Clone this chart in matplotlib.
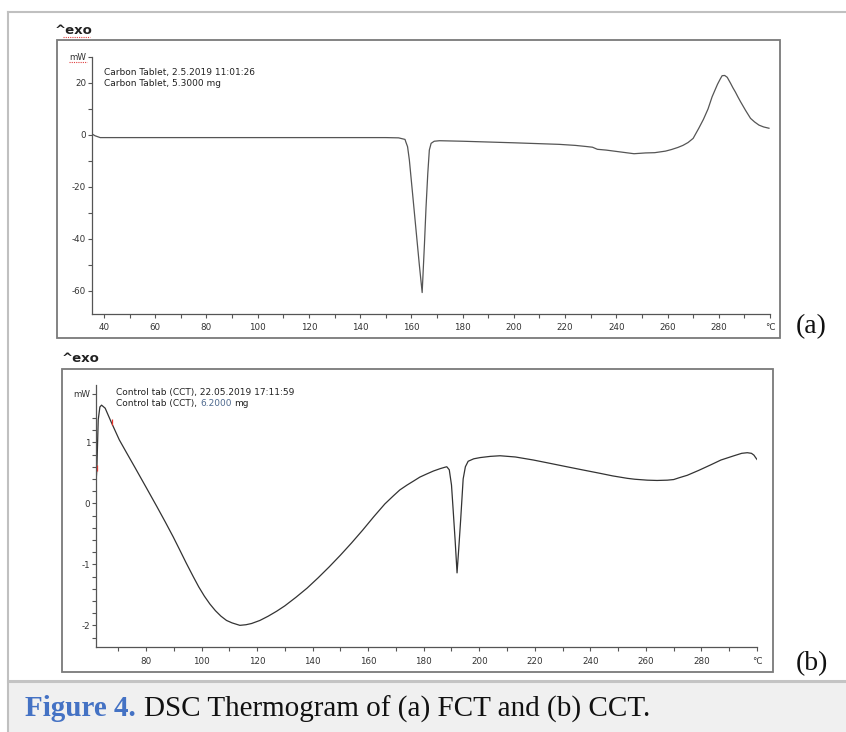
import matplotlib.pyplot as plt
from matplotlib.patches import Rectangle
from matplotlib.lines import Line2D

# Figure size in pixels
W, H = 846, 732


def fx(x):
    return x / W


def fy(y):
    return 1 - y / H


# (a) FCT thermogram
fct_temp = [35.3, 36.5, 38.5, 42, 50, 70, 100, 130, 150, 155, 157.5, 157.8, 158.5,
            159.2, 160.5, 161.8, 163.1, 164.2, 165.1, 165.7, 166.4, 167.0, 167.7,
            168.9, 171, 180, 200, 217.7, 224, 228, 230.7, 232.6, 236, 239.1, 243,
            246.9, 251.4, 255, 259.2, 261.5, 264, 266, 268, 270, 272.2, 274,
            275.8, 277.4, 279.5, 280.5, 281.3, 282.3, 283.3, 284.6, 285.5, 286.5,
            287.5, 288.5, 290.5, 292.4, 294, 295.7, 297.5, 299.6]
fct_mw = [0.4, -0.3, -1.0, -1.0, -1.0, -1.0, -1.0, -1.0, -1.0, -1.1, -1.7, -2.6, -4.5,
          -9.6, -23, -36.5, -50, -60.6, -41.8, -28, -14.7, -5.8, -3.2,
          -2.4, -2.2, -2.4, -3.0, -3.6, -4.0, -4.4, -4.7, -5.5, -5.8, -6.2, -6.7,
          -7.2, -6.9, -6.8, -6.2, -5.6, -4.8, -4.0, -2.9, -1.3, 2.6, 6.0,
          10.0, 14.7, 19.5, 21.4, 22.8, 22.9, 22.2, 19.9, 18.2, 16.5,
          14.6, 12.8, 9.4, 6.4, 5.0, 3.8, 3.1, 2.6]

# (b) CCT thermogram
cct_temp = [62.1, 62.3, 62.8, 63.4, 64.0, 65.3, 67.4, 70.4, 73, 76, 80.2, 84, 87,
            89.8, 92, 94.5, 97, 99, 101, 103, 105, 107, 109, 111, 113.8, 116,
            118, 121, 124, 127, 130, 134, 138, 142, 146, 150, 154, 158, 162, 166,
            169, 171.4, 174, 176.5, 178.6, 181, 183.5, 186, 187.5, 188.3, 189.2,
            190, 190.6, 191.3, 192, 192.6, 193.3, 194.2, 195, 196, 198, 200.3,
            204, 207.5, 213, 219.5, 225, 231.5, 237, 243.7, 248, 253.3, 256,
            260.5, 264, 267.7, 270, 272, 274.9, 279, 283.3, 287, 291.7, 294.5,
            296.5, 298, 298.9, 299.5, 300.0]
cct_mw = [0.41, 0.55, 1.37, 1.58, 1.61, 1.56, 1.34, 1.04, 0.83, 0.59, 0.25, -0.06,
          -0.31, -0.55, -0.75, -0.98, -1.2, -1.37, -1.52, -1.65, -1.76, -1.85,
          -1.92, -1.96, -2.0, -1.99, -1.97, -1.92, -1.85, -1.77, -1.68, -1.54,
          -1.39, -1.22, -1.04, -0.85, -0.65, -0.44, -0.22, -0.01, 0.12, 0.22,
          0.3, 0.37, 0.43, 0.48, 0.53, 0.57, 0.59, 0.6, 0.55, 0.3, -0.11, -0.6,
          -1.14, -0.75, -0.27, 0.4, 0.6, 0.69, 0.73, 0.75, 0.77, 0.78, 0.76,
          0.71, 0.66, 0.6, 0.55, 0.49, 0.45, 0.41, 0.395, 0.38, 0.375, 0.38,
          0.39, 0.42, 0.46, 0.54, 0.63, 0.71, 0.78, 0.82, 0.83, 0.82, 0.79,
          0.75, 0.72]

# tick marks / labels
a_xmajor = [40, 60, 80, 100, 120, 140, 160, 180, 200, 220, 240, 260, 280, 300]
a_xlabels = ['40', '60', '80', '100', '120', '140', '160', '180', '200', '220',
             '240', '260', '280', '°C']
a_ymajor = [-60, -40, -20, 0, 20, 30]
a_ylabels = ['-60', '-40', '-20', '0', '20', 'mW']

b_xmajor = [80, 100, 120, 140, 160, 180, 200, 220, 240, 260, 280, 300]
b_xlabels = ['80', '100', '120', '140', '160', '180', '200', '220', '240', '260',
             '280', '°C']
b_ymajor = [-2, -1, 0, 1, 1.8]
b_ylabels = ['-2', '-1', '0', '1', 'mW']

fig = plt.figure(figsize=(W / 100, H / 100), dpi=100)
fig.patch.set_facecolor('white')
renderer = fig.canvas.get_renderer()


def text_row(x, y, parts, gap, **kw):
    # put text pieces one after another on a line (x, y in pixels)
    for s, color, weight in parts:
        t = fig.text(fx(x), fy(y), s, color=color, fontweight=weight,
                     va='center', **kw)
        bb = t.get_window_extent(renderer)
        x = bb.x1 + gap


def squiggle(x0, x1, y):
    # red spell-check underline (decoration)
    fig.add_artist(Line2D([fx(x0), fx(x1)], [fy(y), fy(y)], transform=fig.transFigure,
                          color='#e04040', lw=0.8, ls=(0, (1, 1))))


# page frame and caption band
fig.add_artist(Rectangle((fx(8), 0), fx(846) - fx(8), fy(681), transform=fig.transFigure,
                         facecolor='#f0f0f0', edgecolor='none', zorder=0))
fig.add_artist(Line2D([fx(8), fx(846)], [fy(681), fy(681)], transform=fig.transFigure,
                      color='#c4c4c4', lw=2.2))
fig.add_artist(Line2D([fx(8), fx(846)], [fy(12), fy(12)], transform=fig.transFigure,
                      color='#c0c0c0', lw=1.5))
fig.add_artist(Line2D([fx(8), fx(8)], [fy(12), 0], transform=fig.transFigure,
                      color='#c0c0c0', lw=1.5))

# panel boxes
for (x0, y0, x1, y1) in [(57, 40, 780, 338), (62, 369, 773, 672)]:
    fig.add_artist(Rectangle((fx(x0), fy(y1)), fx(x1) - fx(x0), fy(y0) - fy(y1),
                             transform=fig.transFigure, facecolor='none',
                             edgecolor='#7a7a7a', lw=1.3))


def style_axes(ax, xmajor, xlabels, xminor, ymajor, ylabels, yminor):
    for s in ['top', 'right']:
        ax.spines[s].set_visible(False)
    for s in ['left', 'bottom']:
        ax.spines[s].set_color('#555555')
        ax.spines[s].set_linewidth(0.9)
    ax.set_facecolor('none')
    ax.set_xticks(xmajor)
    ax.set_xticklabels(xlabels)
    ax.set_xticks(xminor, minor=True)
    ax.set_yticks(ymajor)
    ax.set_yticklabels(ylabels)
    ax.set_yticks(yminor, minor=True)
    ax.tick_params(which='both', direction='out', length=3.2, width=0.8,
                   color='#555555', labelsize=6.3, labelcolor='#333333')
    ax.tick_params(axis='x', pad=3.5)
    ax.tick_params(axis='y', pad=1)


# panel (a)
ax_a = fig.add_axes([fx(92), fy(314), fx(770) - fx(92), fy(57) - fy(314)])
ax_a.plot(fct_temp, fct_mw, color='#555555', lw=0.9)
ax_a.set_xlim(35.3, 300)
ax_a.set_ylim(-68.85, 30)
style_axes(ax_a, a_xmajor, a_xlabels, list(range(50, 300, 20)),
           a_ymajor, a_ylabels, [-50, -30, -10, 10])

fig.text(fx(104), fy(73), 'Carbon Tablet, 2.5.2019 11:01:26', fontsize=6.5,
         color='#222222', va='center')
fig.text(fx(104), fy(84), 'Carbon Tablet, 5.3000 mg', fontsize=6.5,
         color='#222222', va='center')
fig.text(fx(55), fy(30), '^exo', fontsize=9.5, fontweight='bold',
         color='#222222', va='center')
squiggle(63, 90, 37)
squiggle(69, 87, 62)

# panel (b)
ax_b = fig.add_axes([fx(96), fy(647.3), fx(757) - fx(96), fy(385) - fy(647.3)])
ax_b.plot(cct_temp, cct_mw, color='#333333', lw=0.9)
ax_b.plot([62.3, 67.6], [0.58, 1.33], ls='none', marker='|', ms=4, mew=0.9,
          color='#e8342c', clip_on=False)
ax_b.set_xlim(62.0, 300)
ax_b.set_ylim(-2.36, 1.94)
b_yminor = [round(-2.2 + 0.2 * i, 1) for i in range(19)]
style_axes(ax_b, b_xmajor, b_xlabels, list(range(70, 300, 20)),
           b_ymajor, b_ylabels, b_yminor)

fig.text(fx(116), fy(392), 'Control tab (CCT), 22.05.2019 17:11:59', fontsize=6.5,
         color='#222222', va='center')
text_row(116, 404, [('Control tab (CCT),', '#222222', 'normal'),
                    ('6.2000', '#4f6a8f', 'normal'),
                    ('mg', '#222222', 'normal')], gap=3, fontsize=6.5)
fig.text(fx(62), fy(358), '^exo', fontsize=9.5, fontweight='bold',
         color='#222222', va='center')

# panel letters
fig.text(fx(796), fy(327), '(a)', fontsize=20, family='Liberation Serif',
         color='#111111', va='center')
fig.text(fx(796), fy(664), '(b)', fontsize=20, family='Liberation Serif',
         color='#111111', va='center')

# caption
text_row(25, 709, [('Figure 4.', '#4472c4', 'bold'),
                   ('DSC Thermogram of (a) FCT and (b) CCT.', '#111111', 'normal')],
         gap=8, fontsize=21, family='Liberation Serif')

plt.savefig('out.png', dpi=100)
